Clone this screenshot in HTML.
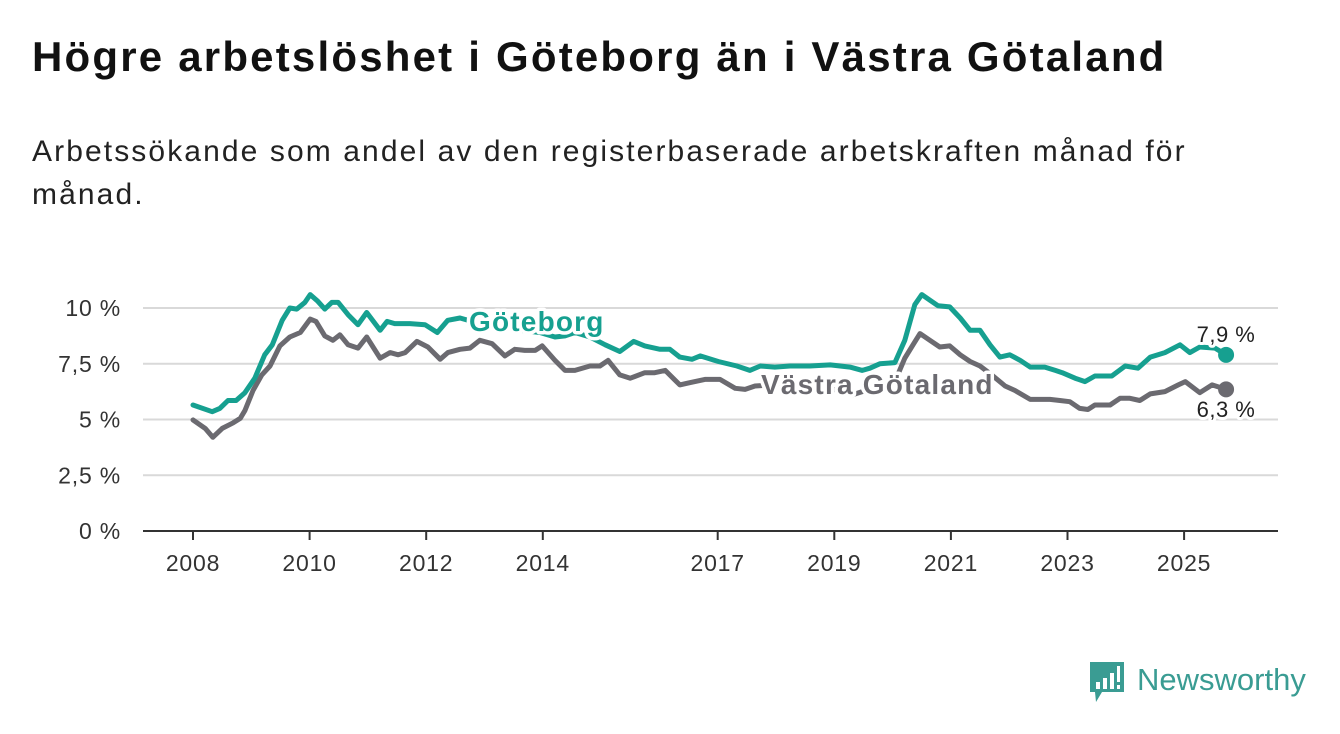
<!DOCTYPE html>
<html><head><meta charset="utf-8"><style>
body{margin:0;background:#fff;width:1340px;height:734px;overflow:hidden;font-family:"Liberation Sans","DejaVu Sans",sans-serif}
#title{position:absolute;left:32px;top:33px;font-size:42px;font-weight:bold;color:#111;margin:0;letter-spacing:2.2px}
#sub{position:absolute;left:32px;top:130px;width:1215px;font-size:30px;line-height:43px;color:#222;margin:0;letter-spacing:2.1px}
svg{position:absolute;left:0;top:0}
</style></head><body>
<h1 id="title">Högre arbetslöshet i Göteborg än i Västra Götaland</h1>
<p id="sub">Arbetssökande som andel av den registerbaserade arbetskraften månad för månad.</p>
<svg id="chart" width="1340" height="734"></svg>
<script>
const gbgYears=[2008.00,2008.33,2008.46,2008.60,2008.74,2008.89,2009.06,2009.23,2009.36,2009.53,2009.66,2009.78,2009.92,2010.01,2010.14,2010.26,2010.38,2010.49,2010.66,2010.83,2010.98,2011.21,2011.33,2011.46,2011.72,2011.98,2012.19,2012.37,2012.58,2012.92,2013.27,2013.61,2013.95,2014.21,2014.38,2014.55,2014.81,2015.07,2015.32,2015.56,2015.75,2016.01,2016.18,2016.35,2016.56,2016.70,2017.01,2017.33,2017.55,2017.73,2017.98,2018.24,2018.58,2018.93,2019.27,2019.48,2019.61,2019.78,2020.04,2020.21,2020.38,2020.50,2020.64,2020.78,2020.98,2021.16,2021.33,2021.50,2021.67,2021.84,2022.01,2022.19,2022.36,2022.61,2022.79,2022.91,2023.13,2023.30,2023.47,2023.76,2023.99,2024.21,2024.42,2024.67,2024.93,2025.10,2025.27,2025.53,2025.72];
const gbgValues=[5.65,5.35,5.5,5.85,5.85,6.2,6.85,7.9,8.35,9.45,10.0,9.95,10.25,10.6,10.3,9.95,10.25,10.25,9.7,9.25,9.8,9.0,9.4,9.3,9.3,9.25,8.9,9.45,9.55,9.3,9.2,9.0,8.9,8.7,8.75,8.9,8.7,8.35,8.05,8.5,8.3,8.15,8.15,7.8,7.7,7.85,7.6,7.4,7.2,7.4,7.35,7.4,7.4,7.45,7.35,7.2,7.3,7.5,7.55,8.55,10.15,10.6,10.35,10.1,10.05,9.55,9.0,9.0,8.35,7.8,7.9,7.65,7.35,7.35,7.2,7.1,6.85,6.7,6.95,6.95,7.4,7.3,7.8,8.0,8.35,8.0,8.25,8.2,7.9];
const vgYears=[2008.00,2008.21,2008.34,2008.50,2008.69,2008.81,2008.89,2009.03,2009.18,2009.32,2009.49,2009.66,2009.84,2010.01,2010.11,2010.26,2010.40,2010.52,2010.66,2010.83,2010.98,2011.21,2011.38,2011.52,2011.64,2011.84,2012.03,2012.24,2012.37,2012.58,2012.75,2012.92,2013.13,2013.35,2013.52,2013.69,2013.87,2013.99,2014.21,2014.38,2014.55,2014.81,2014.98,2015.12,2015.32,2015.50,2015.75,2015.92,2016.10,2016.35,2016.52,2016.78,2017.04,2017.30,2017.47,2017.64,2017.98,2018.41,2018.75,2019.10,2019.30,2019.48,2019.78,2020.04,2020.21,2020.35,2020.47,2020.64,2020.81,2020.98,2021.16,2021.33,2021.50,2021.70,2021.93,2022.10,2022.36,2022.70,2022.87,2023.04,2023.21,2023.35,2023.47,2023.73,2023.90,2024.07,2024.24,2024.42,2024.67,2024.90,2025.02,2025.27,2025.48,2025.72];
const vgValues=[4.98,4.6,4.2,4.6,4.85,5.05,5.4,6.3,7.0,7.4,8.3,8.7,8.9,9.5,9.4,8.75,8.55,8.8,8.35,8.2,8.7,7.75,8.0,7.9,8.0,8.5,8.25,7.7,8.0,8.15,8.2,8.55,8.4,7.85,8.15,8.1,8.1,8.3,7.65,7.2,7.2,7.4,7.4,7.65,7.0,6.85,7.1,7.1,7.2,6.55,6.65,6.8,6.8,6.4,6.35,6.5,6.55,6.5,6.45,6.3,6.1,6.25,6.6,6.7,7.75,8.35,8.85,8.55,8.25,8.3,7.9,7.6,7.4,7.0,6.5,6.3,5.9,5.9,5.85,5.8,5.5,5.45,5.65,5.65,5.95,5.95,5.85,6.15,6.25,6.55,6.7,6.2,6.55,6.35];
const yTicks=[0,2.5,5,7.5,10];
const yTickLabels=["0 %","2,5 %","5 %","7,5 %","10 %"];
const xTicks=[2008,2010,2012,2014,2017,2019,2021,2023,2025];
const endLabels=["7,9 %","6,3 %"];

const NS="http://www.w3.org/2000/svg";
const svg=document.getElementById('chart');
const x=v=>193+(v-2008)*58.3;
const y=v=>531-v*22.3;
function el(t,a,p){const e=document.createElementNS(NS,t);for(const k in a)e.setAttribute(k,a[k]);(p||svg).appendChild(e);return e;}
yTicks.forEach((t,i)=>{
  if(t>0){const g=el('line',{x1:143,x2:1278,y1:y(t),y2:y(t),stroke:'#d9d9d9','stroke-width':2});
  
  }
  const l=el('text',{x:121,y:y(t)+8,'text-anchor':'end','font-size':23,fill:'#333','letter-spacing':'0.8'});
  l.textContent=yTickLabels[i];
  
  
});
const ax=el('line',{x1:143,x2:1278,y1:531,y2:531,stroke:'#333','stroke-width':2});


xTicks.forEach(t=>{
  const tk=el('line',{x1:x(t),x2:x(t),y1:531,y2:540,stroke:'#333','stroke-width':2});
  
  
  const l=el('text',{x:x(t),y:571,'text-anchor':'middle','font-size':23,fill:'#333','letter-spacing':'0.8'});
  l.textContent=t;
  
  
});
function line(xs,vs,c,name){
  const d=xs.map((v,i)=>(i?'L':'M')+x(v).toFixed(1)+','+y(vs[i]).toFixed(1)).join('');
  const p=el('path',{d:d,fill:'none',stroke:c,'stroke-width':5,'stroke-linejoin':'round','stroke-linecap':'round'});
  
  
  const n=xs.length-1;
  const dot=el('circle',{cx:x(xs[n]),cy:y(vs[n]),r:8,fill:c});
  
  
}
line(vgYears,vgValues,'#6b6a70','vastra-gotaland-line');
line(gbgYears,gbgValues,'#16a090','goteborg-line');
function lab(txt,xx,yy,c,name,bold,anchor){
  const t=el('text',{x:xx,y:yy,'font-size':bold?28:22,'font-weight':bold?'bold':'normal',fill:c,stroke:'#fff','stroke-width':bold?7:6,'paint-order':'stroke','stroke-linejoin':'round','text-anchor':anchor||'start','letter-spacing':bold?'1.2':'0.5'});
  t.textContent=txt;
  
  
}
lab('Göteborg',469,331,'#16a090','goteborg-label',true);
lab('Västra Götaland',761,394,'#6b6a70','vastra-gotaland-label',true);
lab(endLabels[0],1226,342,'#222','goteborg-end-value',false,'middle');
lab(endLabels[1],1226,417,'#222','vastra-gotaland-end-value',false,'middle');
const g=el('g',{});


el('path',{d:'M1090,662 h34 v30 h-22 l-6,10 l-1,-10 h-5 z',fill:'#3a9c93'},g);
el('rect',{x:1096,y:682,width:4,height:7,fill:'#fff'},g);
el('rect',{x:1103,y:678,width:4,height:11,fill:'#fff'},g);
el('rect',{x:1110,y:673,width:4,height:16,fill:'#fff'},g);
el('rect',{x:1117,y:666,width:3,height:16,fill:'#fff'},g);
el('rect',{x:1117,y:685,width:3,height:4,fill:'#fff'},g);
const lt=el('text',{x:1137,y:690,'font-size':31,fill:'#3a9c93'},g);
lt.textContent='Newsworthy';
</script>
</body></html>
